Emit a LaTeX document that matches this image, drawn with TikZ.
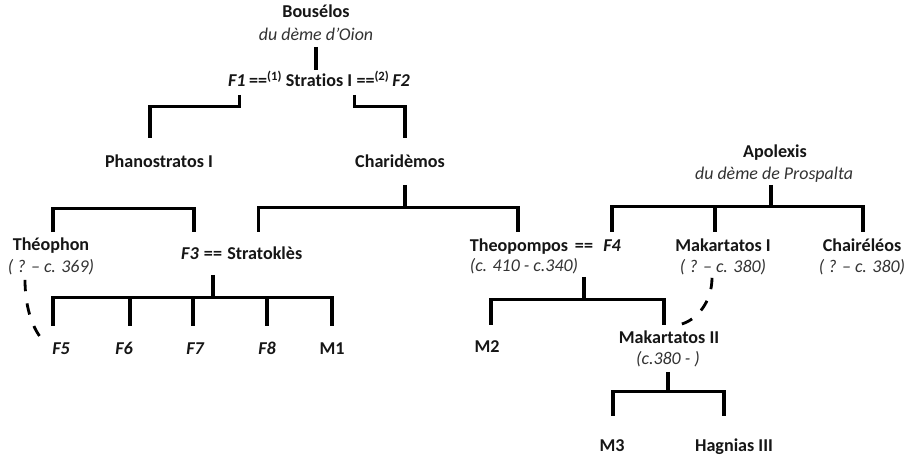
\documentclass[tikz,border=0pt]{standalone}
\usepackage{fontspec}
\setmainfont[Ligatures=NoCommon]{Carlito}
\usepackage{tikz}
\usetikzlibrary{calc,positioning}
\definecolor{ink}{HTML}{161616}
\definecolor{dateink}{HTML}{333333}
\tikzset{
  person/.style={font=\fontsize{10.3}{12}\selectfont\bfseries, text=ink, inner sep=0pt, outer sep=0pt, text height=7.5pt, text depth=2.5pt},
  wife/.style={person, font=\fontsize{10.3}{12}\selectfont\bfseries\itshape},
  dates/.style={person, font=\fontsize{10.2}{12}\selectfont\itshape, text=dateink},
  link/.style={line width=1.8pt, color=black},
  kin/.style={line width=1.6pt, color=black, dash pattern=on 6.5pt off 7pt}
}
\begin{document}
\begin{tikzpicture}[x=0.02cm, y=-0.02cm]
			%%%%% START %%%%%
			\fill[white] (0,0) rectangle (919,456);
			\useasboundingbox (0,0) rectangle (919,456);
			
			\node[person] (bous) at (316,13) {Bousélos};
			\node[dates] (bousd) at (316,36) {du dème d’Oion};
			
			\node[person] (stratios) at (319,82) {Stratios I};
			\node[person, left=2pt of stratios] (e1) {==\textsuperscript{(1)}};
			\node[wife, left=2pt of e1] (f1) {F1};
			\node[person, right=2.5pt of stratios] (e2) {==\textsuperscript{(2)}};
			\node[wife, right=1.5pt of e2] (f2) {F2};
			
			\node[person] (phano) at (159,163) {Phanostratos I};
			\node[person] (charid) at (400,163) {Charidèmos};
			
			\node[person] (theoph) at (51,246) {Théophon};
			\node[dates] (theophd) at (51,268) {( ? – c. 369)};
			\node[person] (e3) at (213,255) {==};
			\node[wife, left=3pt of e3] (f3) {F3};
			\node[person, right=3pt of e3] (stratok) {Stratoklès};
			
			\node[person] (theop) at (519,247) {Theopompos};
			\node[person] (e4) at (584,247) {==};
			\node[wife] (f4) at (612,247) {F4};
			\node[dates] (theopd) at (524,267) {(c. 410 - c.340)};
			
			\node[person] (apol) at (775,153) {Apolexis};
			\node[dates] (apold) at (774,175) {du dème de Prospalta};
			\node[person] (mak1) at (723,247) {Makartatos I};
			\node[dates] (mak1d) at (723,268) {( ? – c. 380)};
			\node[person] (chair) at (862,247) {Chairéléos};
			\node[dates] (chaird) at (862,268) {( ? – c. 380)};
			
			\node[wife] (f5) at (61,350) {F5};
			\node[wife] (f6) at (124,350) {F6};
			\node[wife] (f7) at (195,350) {F7};
			\node[wife] (f8) at (267,350) {F8};
			\node[person] (m1) at (332,350) {M1};
			
			\node[person] (m2) at (487,348) {M2};
			\node[person] (mak2) at (669,339) {Makartatos II};
			\node[dates] (mak2d) at (668,360) {(c.380 - )};
			
			\node[person] (m3) at (612,447) {M3};
			\node[person] (hagn) at (734,447) {Hagnias III};
			
			% Bouselos -> Stratios
			\draw[link] ($(bousd.south)+(0,2)$) -- ($(bousd.south |- stratios.north)+(0,-3)$);
			
			% Stratios' two marriages
			\draw[link] ($(f1.south)+(3,4)$) -- ++(0,12) -| ($(phano.north)+(-9,-16)$);
			\draw[link] ($(e2.south west)+(-2,4)$) -- ++(0,12) -| ($(charid.north)+(5,-16)$);
			
			% Phanostratos
			\draw[link] ($(theoph.north)+(2,-5)$) -- ++(0,-24) -| ($(f3.north)+(4,-14)$);
			
			% Charidemos
			\coordinate (cj) at ($(charid.south)+(5,36)$);
			\draw[link] ($(charid.south)+(5,13)$) -- (cj);
			\draw[link] (cj) -| ($(stratok.north)+(-6,-14)$);
			\draw[link] (cj) -| ($(theop.north)+(-1,-6)$);
			
			% F3 == Stratokles
			\coordinate (sj) at ($(e3.south)+(0,34)$);
			\draw[link] ($(e3.south)+(0,11)$) -- (sj);
			\draw[link] (sj) -| ($(f5.north)+(-8,-15)$);
			\draw[link] (sj) -| ($(f6.north)+(6,-15)$);
			\draw[link] (sj) -| ($(f7.north)+(-2,-15)$);
			\draw[link] (sj) -| ($(f8.north)+(0,-15)$);
			\draw[link] (sj) -| ($(m1.north)+(0,-15)$);
			
			% Apolexis
			\coordinate (aj) at ($(apold.south)+(-3,23)$);
			\draw[link] ($(apold.south)+(-3,1)$) -- (aj);
			\draw[link] (aj) -| ($(f4.north)+(0,-6)$);
			\draw[link] (aj) -| ($(mak1.north)+(-8,-6)$);
			\draw[link] (aj) -| ($(chair.north)+(1,-6)$);
			
			% Theopompos == F4
			\coordinate (tj) at ($(e4.south)+(0,44)$);
			\draw[link] ($(e4.south)+(0,21)$) -- (tj);
			\draw[link] (tj) -| ($(m2.north)+(4,-14)$);
			\draw[link] (tj) -| ($(mak2.north)+(-5,-5)$);
			
			% Makartatos II
			\coordinate (mj) at ($(mak2d.south)+(0,23)$);
			\draw[link] ($(mak2d.south)+(0,3)$) -- (mj);
			\draw[link] (mj) -| ($(m3.north)+(1,-22)$);
			\draw[link] (mj) -| ($(hagn.north)+(-10,-22)$);
			
			% adoptions
			\draw[kin] ($(theophd.south)+(-26,3)$) .. controls +(0,25) and +(-9,-12) .. ($(f5.west)+(-12,-13)$);
			\draw[kin] ($(mak1d.south)+(-11,1)$) .. controls +(0,25) and +(15,-4) .. ($(mak2.north)+(12,-6)$);
			
			%%%%% END %%%%%
\end{tikzpicture}
\end{document}
